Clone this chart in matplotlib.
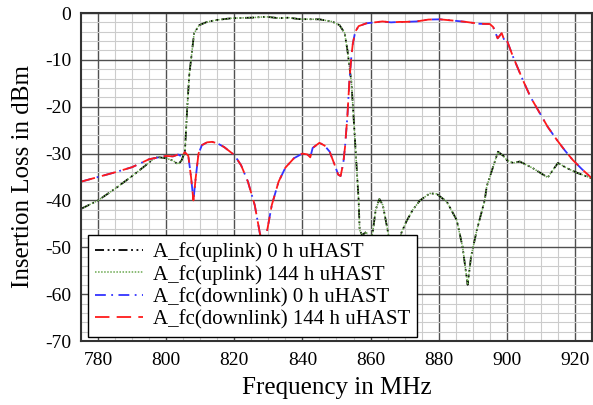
import matplotlib
matplotlib.use("Agg")
import matplotlib.pyplot as plt
from matplotlib.ticker import MultipleLocator

plt.rcParams['font.family'] = ['Liberation Serif', 'DejaVu Serif']
plt.rcParams['axes.unicode_minus'] = False

# ---- data ----
down_freq = [775, 780, 785, 790, 795, 800, 802, 803.5, 804.5, 805.5, 806.5, 807.3, 808, 808.7,
             809.5, 810.5, 812, 813.5, 815, 817, 820, 822, 824, 826, 827.5, 828.5, 829.5, 831,
             833, 835, 837.5, 840, 841.5, 842.3, 843, 845, 846.5, 848, 849.5, 850.5, 851.2, 852,
             852.5, 853.2, 853.8, 854.4, 854.8, 855.5, 856.5, 858.8, 863.5, 866, 868.5, 870,
             873.5, 877, 880.3, 884, 888, 892, 895, 896, 897.3, 898.5, 899.4, 900, 901.8, 904.7,
             907, 909.7, 912, 914.7, 917, 919.4, 922, 925]
down_0h = [-36.0, -35.0, -34.0, -32.9, -31.2, -30.5, -30.6, -30.2, -30.6, -29.7, -30.5, -35, -40, -35,
           -30, -28.2, -27.6, -27.5, -27.8, -28.6, -30.3, -32.5, -36, -41, -47, -50, -47, -41,
           -36, -33, -31, -30, -30.2, -30.8, -28.8, -27.7, -28.3, -29.6, -32.5, -34.5, -34.8, -32,
           -28.6, -22, -14.3, -9, -6.5, -4, -2.8, -2.2, -1.8, -2.0, -1.9, -1.9,
           -1.8, -1.4, -1.35, -1.6, -1.9, -2.3, -2.35, -3.0, -5.4, -4.3, -6.1, -5.8, -9.3, -14.3,
           -18, -21.4, -24.3, -27.1, -29.3, -31.4, -33.3, -35.3]
down_144h = list(down_0h)

up_freq = [775, 780, 785, 790, 794, 797, 800, 802, 803.5, 804.5, 805.5, 806.2, 806.8, 807.3,
           808.2, 809.7, 812, 814.7, 819.4, 825, 829.4, 833, 836, 839, 845, 848.8, 850.9, 852.4,
           853.2, 854.4, 855.3, 855.9, 856.5, 856.8, 857.6, 858.2, 858.8, 859.5, 860.2, 860.6,
           861.5, 862.6, 863.6, 865, 865.8, 866.8, 867.8, 869, 870.5, 872.4, 874.5, 877.4,
           879.4, 882.4, 885.3, 887, 888.5, 889.5, 891.2, 893.5, 894.1, 895, 897.4, 899, 900,
           901.8, 903.8, 907.6, 912, 915, 917.6, 920.6, 925]
up_0h = [-41.8, -40, -37.5, -34.8, -32.5, -30.7, -31, -31.5, -32.3, -31.5, -29.6, -20, -13, -10,
         -4.3, -2.6, -1.9, -1.5, -1.1, -1.0, -0.8, -1.1, -1.0, -1.3, -1.35, -1.85, -2.6, -4.3,
         -7.9, -15, -25.6, -32.8, -40, -46.3, -47.5, -47.0, -46.7, -50, -48, -47,
         -42, -39.7, -41, -46.3, -50, -54, -51, -47, -44.5, -42, -40, -38.5,
         -38.6, -40.3, -44.2, -49.9, -58, -52, -46.3, -40, -37, -35, -29.6, -30.5, -31.4,
         -32, -31.7, -33.1, -35.1, -32, -33.1, -34.1, -35.3]
up_144h = list(up_0h)

labels = ["A_fc(uplink) 0 h uHAST", "A_fc(uplink) 144 h uHAST",
          "A_fc(downlink) 0 h uHAST", "A_fc(downlink) 144 h uHAST"]
x_ticks = [780, 800, 820, 840, 860, 880, 900, 920]
y_ticks = [0, -10, -20, -30, -40, -50, -60, -70]

fig = plt.figure(figsize=(5.93, 4.05), dpi=100)
ax = fig.add_axes([81/593, 64/405, 511/593, 328/405])

ax.plot(up_freq, up_0h, color='black', lw=1.3, dashes=(5, 2, 1, 2, 1, 2), label=labels[0])
ax.plot(up_freq, up_144h, color='#6aa84f', lw=1.1, dashes=(1, 1), label=labels[1])
ax.plot(down_freq, down_0h, color='#3333ff', lw=1.3, dashes=(6, 3, 1, 3), label=labels[2])
ax.plot(down_freq, down_144h, color='#ff1a1a', lw=1.3, dashes=(8, 4), label=labels[3])

ax.set_xlim(775, 925)
ax.set_ylim(-70, 0)
ax.set_xticks(x_ticks)
ax.set_yticks(y_ticks)
ax.xaxis.set_minor_locator(MultipleLocator(5))
ax.yaxis.set_minor_locator(MultipleLocator(2))
ax.grid(which='major', color='#505050', lw=1.0)
ax.grid(which='minor', color='#cccccc', lw=0.8)
ax.set_axisbelow(True)
ax.tick_params(which='both', length=0, labelsize=14)
ax.tick_params(axis='y', pad=7)
ax.tick_params(axis='x', pad=8)
for s in ax.spines.values():
    s.set_color('#333333')
    s.set_linewidth(1.5)

ax.set_xlabel("Frequency in MHz", fontsize=18, labelpad=6)
ax.set_ylabel("Insertion Loss in dBm", fontsize=18, labelpad=8)

leg = ax.legend(loc='lower left', bbox_to_anchor=(0.0137, 0.012), borderaxespad=0,
                fontsize=15, fancybox=False, framealpha=1, edgecolor='black',
                handlelength=2.3, handletextpad=0.45, labelspacing=0.14,
                borderpad=0.35)
leg.get_frame().set_linewidth(1.0)

fig.savefig("out.png", dpi=100)
